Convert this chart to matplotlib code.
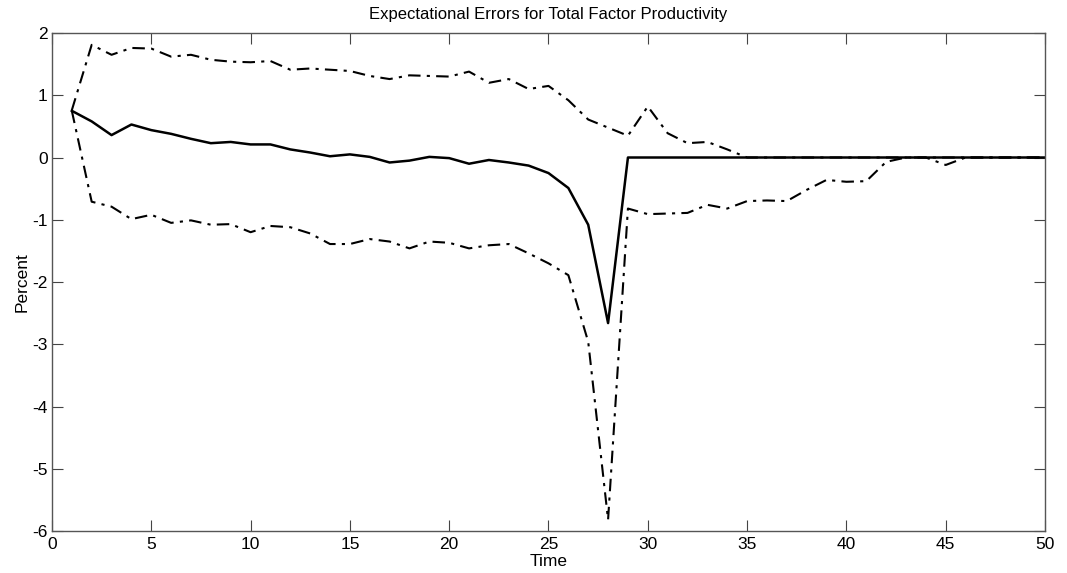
import matplotlib
matplotlib.use("Agg")
import matplotlib.pyplot as plt
import numpy as np

plt.rcParams['font.family'] = ['Liberation Sans Narrow', 'Liberation Sans', 'DejaVu Sans']
plt.rcParams['axes.unicode_minus'] = False

time = np.arange(1, 51)

median = [0.75, 0.58, 0.36, 0.53, 0.44, 0.38, 0.30, 0.23, 0.25, 0.21,
          0.21, 0.13, 0.08, 0.02, 0.05, 0.01, -0.08, -0.05, 0.01, -0.01,
          -0.10, -0.04, -0.08, -0.13, -0.25, -0.49, -1.08, -2.66, 0.0, 0.0,
          0.0, 0.0, 0.0, 0.0, 0.0, 0.0, 0.0, 0.0, 0.0, 0.0,
          0.0, 0.0, 0.0, 0.0, 0.0, 0.0, 0.0, 0.0, 0.0, 0.0]

upper = [0.76, 1.81, 1.65, 1.76, 1.75, 1.62, 1.65, 1.57, 1.54, 1.53,
         1.55, 1.41, 1.43, 1.41, 1.39, 1.31, 1.26, 1.32, 1.31, 1.30,
         1.38, 1.20, 1.26, 1.10, 1.15, 0.92, 0.61, 0.48, 0.35, 0.82,
         0.39, 0.23, 0.25, 0.13, 0.0, 0.0, 0.0, 0.0, 0.0, 0.0,
         0.0, 0.0, 0.0, 0.0, 0.0, 0.0, 0.0, 0.0, 0.0, 0.0]

lower = [0.75, -0.71, -0.79, -0.99, -0.92, -1.05, -1.01, -1.08, -1.07, -1.20,
         -1.10, -1.12, -1.22, -1.39, -1.39, -1.31, -1.35, -1.46, -1.35, -1.37,
         -1.46, -1.41, -1.39, -1.54, -1.70, -1.89, -2.96, -5.82, -0.82, -0.91,
         -0.90, -0.89, -0.76, -0.82, -0.70, -0.69, -0.70, -0.52, -0.36, -0.39,
         -0.38, -0.07, 0.0, 0.0, -0.12, 0.0, 0.0, 0.0, 0.0, 0.0]

fig = plt.figure(figsize=(10.67, 5.73), dpi=100)
ax = fig.add_axes([0.0487, 0.0733, 0.9307, 0.8691])

dashdot = (0, (6, 3, 1.5, 3))
ax.plot(time, upper, color='black', linewidth=1.5, linestyle=dashdot)
ax.plot(time, lower, color='black', linewidth=1.5, linestyle=dashdot)
ax.plot(time, median, color='black', linewidth=1.8)

ax.set_xlim(0, 50)
ax.set_ylim(-6, 2)
ax.set_xticks(np.arange(0, 51, 5))
ax.set_yticks(np.arange(-6, 3, 1))

ax.tick_params(direction='in', top=True, right=True, length=8, width=0.8,
               labelsize=12.5, colors='#444444', labelcolor='black')
ax.tick_params(axis='x', pad=4)
ax.tick_params(axis='y', pad=3)
for spine in ax.spines.values():
    spine.set_color('#555555')
    spine.set_linewidth(1.0)

ax.set_title('Expectational Errors for Total Factor Productivity', fontsize=12, pad=10)
ax.set_xlabel('Time', fontsize=12.5, labelpad=2)
ax.set_ylabel('Percent', fontsize=12.5, labelpad=2)

fig.savefig('out.png', dpi=100, facecolor='white')
